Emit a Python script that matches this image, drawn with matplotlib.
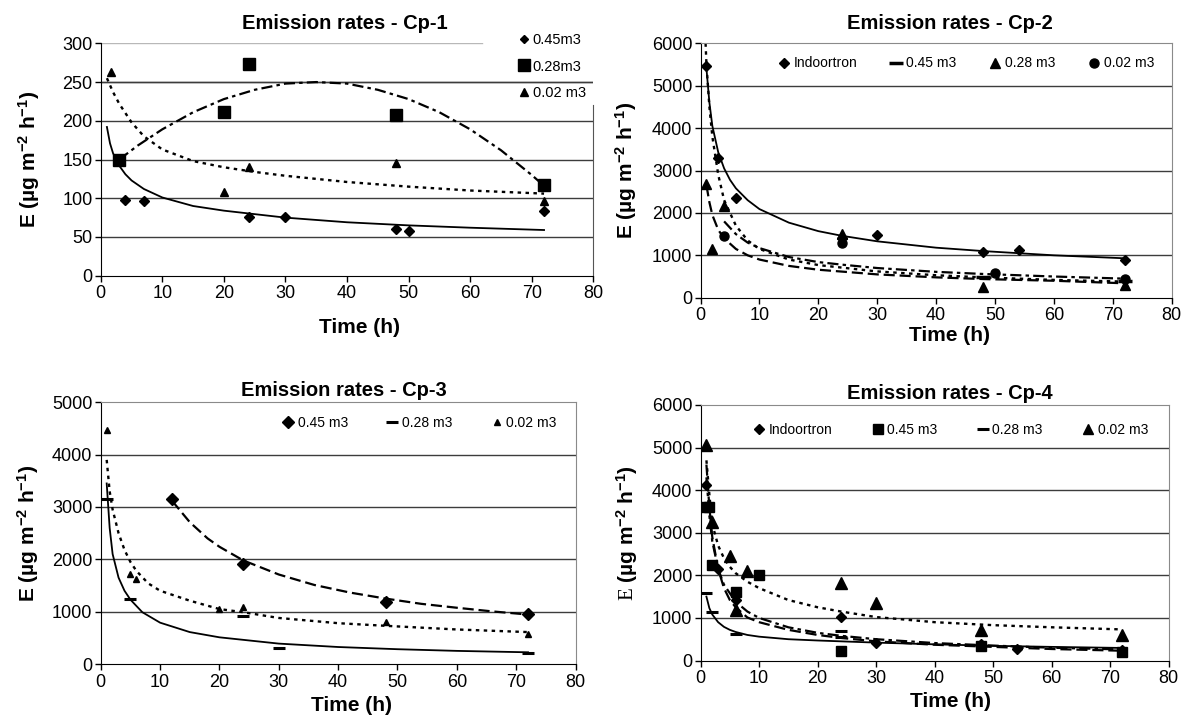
import matplotlib
matplotlib.use('Agg')
import matplotlib.pyplot as plt
from matplotlib.lines import Line2D

plt.rcParams['font.family'] = ['Liberation Sans', 'DejaVu Sans']
plt.rcParams['mathtext.fontset'] = 'custom'
plt.rcParams['mathtext.rm'] = 'Liberation Sans:bold'
plt.rcParams['mathtext.bf'] = 'Liberation Sans:bold'
plt.rcParams['mathtext.sf'] = 'Liberation Serif'
plt.rcParams['mathtext.default'] = 'rm'
plt.rcParams['lines.scale_dashes'] = False

# ---------------- data ----------------
x_ticks = [0, 10, 20, 30, 40, 50, 60, 70, 80]
cp1_yticks = [0, 50, 100, 150, 200, 250, 300]
cp2_yticks = [0, 1000, 2000, 3000, 4000, 5000, 6000]
cp3_yticks = [0, 1000, 2000, 3000, 4000, 5000]
cp4_yticks = [0, 1000, 2000, 3000, 4000, 5000, 6000]

# Cp-1
cp1_045_x = [4, 7, 24, 30, 48, 50, 72]
cp1_045_y = [98, 97, 76, 76, 60, 58, 84]
cp1_028_x = [3, 20, 24, 48, 72]
cp1_028_y = [149, 211, 273, 208, 117]
cp1_002_x = [1.6, 20, 24, 48, 72]
cp1_002_y = [263, 108, 140, 146, 97]
cp1_fit045_x = [1, 1.5, 2, 3, 4, 5, 7, 10, 15, 20, 30, 40, 50, 60, 72]
cp1_fit045_y = [192, 171, 158, 142, 131, 123, 112, 101, 90, 84, 75, 69, 65, 62, 59]
cp1_fit028_x = [3, 6, 10, 15, 20, 25, 30, 35, 40, 45, 50, 55, 60, 65, 70, 72]
cp1_fit028_y = [150, 168, 189, 211, 228, 240, 248, 250, 248, 240, 228, 211, 189, 162, 130, 116]
cp1_fit002_x = [1, 2, 3, 4, 5, 7, 10, 15, 20, 25, 30, 40, 50, 60, 72]
cp1_fit002_y = [255, 237, 222, 210, 198, 180, 163, 148, 140, 134, 129, 121, 115, 110, 106]

# Cp-2
cp2_ind_x = [1, 3, 6, 24, 30, 48, 54, 72]
cp2_ind_y = [5470, 3290, 2360, 1400, 1480, 1070, 1120, 900]
cp2_045_x = [48, 72]
cp2_045_y = [480, 400]
cp2_028_x = [1, 2, 4, 24, 48, 72]
cp2_028_y = [2680, 1160, 2160, 1500, 260, 300]
cp2_002_x = [4, 24, 50, 72]
cp2_002_y = [1450, 1280, 575, 450]
cp2_fitind_x = [1, 1.5, 2, 3, 4, 5, 6, 8, 10, 15, 20, 24, 30, 40, 48, 60, 72]
cp2_fitind_y = [5400, 4600, 4050, 3430, 3050, 2780, 2580, 2300, 2090, 1770, 1570, 1460, 1330, 1180, 1100, 1000, 930]
cp2_fit045_x = [0.85, 1, 1.5, 2, 3, 4, 6, 8, 10, 15, 20, 30, 40, 48, 60, 72]
cp2_fit045_y = [6000, 5500, 4500, 3800, 2900, 2300, 1700, 1350, 1150, 900, 770, 620, 530, 480, 420, 380]
cp2_fit028_x = [1, 1.5, 2, 3, 4, 6, 8, 10, 15, 20, 30, 40, 48, 60, 72]
cp2_fit028_y = [2650, 2250, 1950, 1600, 1400, 1150, 1000, 900, 750, 660, 550, 480, 440, 400, 340]
cp2_fit002_x = [4, 6, 8, 10, 15, 20, 24, 30, 40, 48, 60, 72]
cp2_fit002_y = [1800, 1500, 1300, 1170, 960, 840, 780, 700, 610, 560, 500, 450]

# Cp-3
cp3_045_x = [12, 24, 48, 72]
cp3_045_y = [3150, 1920, 1190, 950]
cp3_028_x = [1, 5, 24, 30, 72]
cp3_028_y = [3160, 1250, 920, 310, 210]
cp3_002_x = [1, 5, 6, 20, 24, 48, 72]
cp3_002_y = [4480, 1720, 1620, 1050, 1080, 810, 570]
cp3_fit045_x = [12, 15, 18, 20, 24, 30, 36, 42, 48, 54, 60, 66, 72]
cp3_fit045_y = [3120, 2710, 2400, 2240, 1980, 1710, 1510, 1365, 1250, 1150, 1075, 1005, 945]
cp3_fit028_x = [1, 1.5, 2, 3, 4, 5, 7, 10, 15, 20, 30, 40, 50, 60, 72]
cp3_fit028_y = [3450, 2600, 2100, 1650, 1400, 1230, 990, 790, 610, 510, 390, 325, 283, 251, 224]
cp3_fit002_x = [1, 1.5, 2, 3, 4, 5, 6, 8, 10, 15, 20, 24, 30, 40, 48, 60, 72]
cp3_fit002_y = [3900, 3300, 2950, 2500, 2180, 1950, 1780, 1540, 1400, 1210, 1050, 990, 880, 780, 730, 660, 610]

# Cp-4
cp4_ind_x = [1, 3, 6, 24, 30, 48, 54, 72]
cp4_ind_y = [4120, 2160, 1420, 1010, 420, 390, 260, 240]
cp4_045_x = [0.5, 1.5, 2, 6, 10, 24, 48, 72]
cp4_045_y = [3610, 3610, 2240, 1620, 2000, 220, 330, 200]
cp4_028_x = [1, 2, 6, 24, 24]
cp4_028_y = [1590, 1150, 615, 700, 560]
cp4_002_x = [1, 2, 5, 6, 8, 24, 30, 48, 72]
cp4_002_y = [5060, 3260, 2450, 1190, 2090, 1810, 1340, 720, 590]
cp4_fitind_x = [1, 1.5, 2, 3, 4, 5, 6, 8, 10, 15, 20, 24, 30, 40, 50, 60, 72]
cp4_fitind_y = [4600, 3600, 2900, 2150, 1700, 1420, 1250, 1010, 900, 720, 600, 530, 450, 370, 320, 270, 230]
cp4_fit045_x = [1, 1.5, 2, 3, 4, 6, 8, 10, 15, 20, 24, 30, 40, 50, 60, 72]
cp4_fit045_y = [4300, 3400, 2800, 2150, 1780, 1380, 1150, 1000, 780, 650, 580, 500, 410, 350, 300, 260]
cp4_fit028_x = [1, 1.5, 2, 3, 4, 5, 6, 8, 10, 15, 20, 30, 40, 50, 60, 72]
cp4_fit028_y = [1500, 1230, 1080, 900, 790, 720, 670, 600, 560, 500, 470, 420, 380, 345, 320, 295]
cp4_fit002_x = [1, 1.5, 2, 3, 4, 5, 6, 8, 10, 15, 20, 24, 30, 40, 50, 60, 72]
cp4_fit002_y = [4700, 3900, 3200, 2700, 2400, 2200, 2050, 1850, 1700, 1420, 1250, 1150, 1020, 900, 830, 780, 730]

# ---------------- styles ----------------
SOLID = dict(color='k', lw=1.3, ls='-')
LONG = dict(color='k', lw=1.6, ls=(0, (8, 3.5)))
SHORT = dict(color='k', lw=1.7, ls=(0, (2.5, 3.2)))
DASHDOT = dict(color='k', lw=1.6, ls=(0, (8, 3, 2.5, 3)))
GRID = '#3c3c3c'
TITLE_FS = 14.5
LABEL_FS = 15
TICK_FS = 13

fig = plt.figure(figsize=(11.84, 7.16), dpi=100)
fig.patch.set_facecolor('white')


def base_style(ax, yticks, box=True):
    ax.set_xlim(0, 80)
    ax.set_xticks(x_ticks)
    ax.set_ylim(yticks[0], yticks[-1])
    ax.set_yticks(yticks)
    for v in yticks[1:-1]:
        ax.axhline(v, color=GRID, lw=1.0, zorder=0.5)
    ax.tick_params(labelsize=TICK_FS, direction='out', length=4, width=1, pad=2)
    ax.tick_params(axis='x', pad=3)
    ax.spines['left'].set_color('k')
    ax.spines['bottom'].set_color('k')
    if box:
        ax.spines['top'].set_color('#8a8a8a')
        ax.spines['right'].set_color('#8a8a8a')


def ylab(ax, text, xc):
    ax.set_ylabel(text, fontsize=LABEL_FS, fontweight='bold')
    ax.yaxis.set_label_coords(xc, 0.5)


def xlab(ax, xc, yc):
    ax.set_xlabel('Time (h)', fontsize=LABEL_FS, fontweight='bold')
    ax.xaxis.set_label_coords(xc, yc)


YLABEL = 'E (µg m$^{-2}$ h$^{-1}$)'

# ---------------- Cp-1 ----------------
ax1 = fig.add_axes([0.0851, 0.6149, 0.4160, 0.3246])
base_style(ax1, cp1_yticks, box=False)
ax1.axhline(250, color=GRID, lw=1.0, zorder=0.5)
ax1.axhline(300, xmin=0, xmax=0.775, color='#b8b8b8', lw=1.0, zorder=0.5)
ax1.spines['top'].set_visible(False)
ax1.spines['right'].set_color('#555555')
ax1.spines['right'].set_bounds(0, 220)
ax1.plot(cp1_fit045_x, cp1_fit045_y, **SOLID)
ax1.plot(cp1_fit028_x, cp1_fit028_y, **DASHDOT)
ax1.plot(cp1_fit002_x, cp1_fit002_y, **SHORT)
ax1.plot(cp1_045_x, cp1_045_y, 'D', color='k', ms=4.8, ls='none')
ax1.plot(cp1_028_x, cp1_028_y, 's', color='k', ms=8.5, ls='none')
ax1.plot(cp1_002_x, cp1_002_y, '^', color='k', ms=6, ls='none')
ax1.set_title('Emission rates - Cp-1', fontsize=TITLE_FS, fontweight='bold', pad=10.4, x=0.495)
h1 = [Line2D([], [], marker='D', color='k', ms=4.5, ls='none'),
      Line2D([], [], marker='s', color='k', ms=8.5, ls='none'),
      Line2D([], [], marker='^', color='k', ms=5.5, ls='none')]
ax1.legend(h1, ['0.45m3', '0.28m3', '0.02 m3'], loc='upper left', bbox_to_anchor=(0.8295, 1.075),
           frameon=False, fontsize=10.5, handlelength=1.0, handletextpad=0.1, borderpad=0,
           labelspacing=0.85)
ylab(ax1, YLABEL, -0.119)
xlab(ax1, 0.526, -0.182)

# ---------------- Cp-2 ----------------
ax2 = fig.add_axes([0.5917, 0.5842, 0.3979, 0.3553])
base_style(ax2, cp2_yticks)
ax2.plot(cp2_fitind_x, cp2_fitind_y, **SOLID)
ax2.plot(cp2_fit045_x, cp2_fit045_y, **SHORT)
ax2.plot(cp2_fit028_x, cp2_fit028_y, **LONG)
ax2.plot(cp2_fit002_x, cp2_fit002_y, **DASHDOT)
ax2.plot(cp2_ind_x, cp2_ind_y, 'D', color='k', ms=5.5, ls='none')
ax2.plot(cp2_045_x, cp2_045_y, '_', color='k', ms=10, mew=2.5, ls='none')
ax2.plot(cp2_028_x, cp2_028_y, '^', color='k', ms=7, ls='none')
ax2.plot(cp2_002_x, cp2_002_y, 'o', color='k', ms=6.5, ls='none')
ax2.set_title('Emission rates - Cp-2', fontsize=TITLE_FS, fontweight='bold', pad=10.4, x=0.529)
h2 = [Line2D([], [], marker='D', color='k', ms=5.5, ls='none'),
      Line2D([], [], marker='_', color='k', ms=10, mew=2.5, ls='none'),
      Line2D([], [], marker='^', color='k', ms=7, ls='none'),
      Line2D([], [], marker='o', color='k', ms=6.5, ls='none')]
ax2.legend(h2, ['Indoortron', '0.45 m3', '0.28 m3', '0.02 m3'], loc='center',
           bbox_to_anchor=(0.563, 0.921), ncol=4, frameon=False, fontsize=10,
           handlelength=1.0, handletextpad=0.2, columnspacing=2.3, borderpad=0)
ylab(ax2, YLABEL, -0.131)
xlab(ax2, 0.529, -0.112)

# ---------------- Cp-3 ----------------
ax3 = fig.add_axes([0.0851, 0.0726, 0.4010, 0.3655])
base_style(ax3, cp3_yticks)
ax3.plot(cp3_fit045_x, cp3_fit045_y, **LONG)
ax3.plot(cp3_fit028_x, cp3_fit028_y, **SOLID)
ax3.plot(cp3_fit002_x, cp3_fit002_y, **SHORT)
ax3.plot(cp3_045_x, cp3_045_y, 'D', color='k', ms=6, ls='none')
ax3.plot(cp3_028_x, cp3_028_y, '_', color='k', ms=9, mew=2.2, ls='none')
ax3.plot(cp3_002_x, cp3_002_y, '^', color='k', ms=4.5, ls='none')
ax3.set_title('Emission rates - Cp-3', fontsize=TITLE_FS, fontweight='bold', pad=4.9, x=0.513)
h3 = [Line2D([], [], marker='D', color='k', ms=6, ls='none'),
      Line2D([], [], marker='_', color='k', ms=9, mew=2.2, ls='none'),
      Line2D([], [], marker='^', color='k', ms=4.5, ls='none')]
ax3.legend(h3, ['0.45 m3', '0.28 m3', '0.02 m3'], loc='center',
           bbox_to_anchor=(0.670, 0.920), ncol=3, frameon=False, fontsize=10,
           handlelength=1.0, handletextpad=0.2, columnspacing=2.7, borderpad=0)
ylab(ax3, YLABEL, -0.125)
xlab(ax3, 0.529, -0.121)

# ---------------- Cp-4 ----------------
ax4 = fig.add_axes([0.5917, 0.0775, 0.3954, 0.3569])
base_style(ax4, cp4_yticks)
ax4.plot(cp4_fitind_x, cp4_fitind_y, **LONG)
ax4.plot(cp4_fit045_x, cp4_fit045_y, **DASHDOT)
ax4.plot(cp4_fit028_x, cp4_fit028_y, **SOLID)
ax4.plot(cp4_fit002_x, cp4_fit002_y, **SHORT)
ax4.plot(cp4_ind_x, cp4_ind_y, 'D', color='k', ms=5, ls='none')
ax4.plot(cp4_045_x, cp4_045_y, 's', color='k', ms=7, ls='none')
ax4.plot(cp4_028_x, cp4_028_y, '_', color='k', ms=9, mew=2.2, ls='none')
ax4.plot(cp4_002_x, cp4_002_y, '^', color='k', ms=8, ls='none')
ax4.set_title('Emission rates - Cp-4', fontsize=TITLE_FS, fontweight='bold', pad=4.4, x=0.533)
h4 = [Line2D([], [], marker='D', color='k', ms=5.5, ls='none'),
      Line2D([], [], marker='s', color='k', ms=7, ls='none'),
      Line2D([], [], marker='_', color='k', ms=9, mew=2.2, ls='none'),
      Line2D([], [], marker='^', color='k', ms=7.5, ls='none')]
ax4.legend(h4, ['Indoortron', '0.45 m3', '0.28 m3', '0.02 m3'], loc='center',
           bbox_to_anchor=(0.533, 0.902), ncol=4, frameon=False, fontsize=10,
           handlelength=1.0, handletextpad=0.2, columnspacing=2.75, borderpad=0)
ylab(ax4, '$\\mathsf{E}$ (µg m$^{-2}$ h$^{-1}$)', -0.129)
xlab(ax4, 0.533, -0.123)

fig.savefig('out.png', dpi=100, facecolor='white')
